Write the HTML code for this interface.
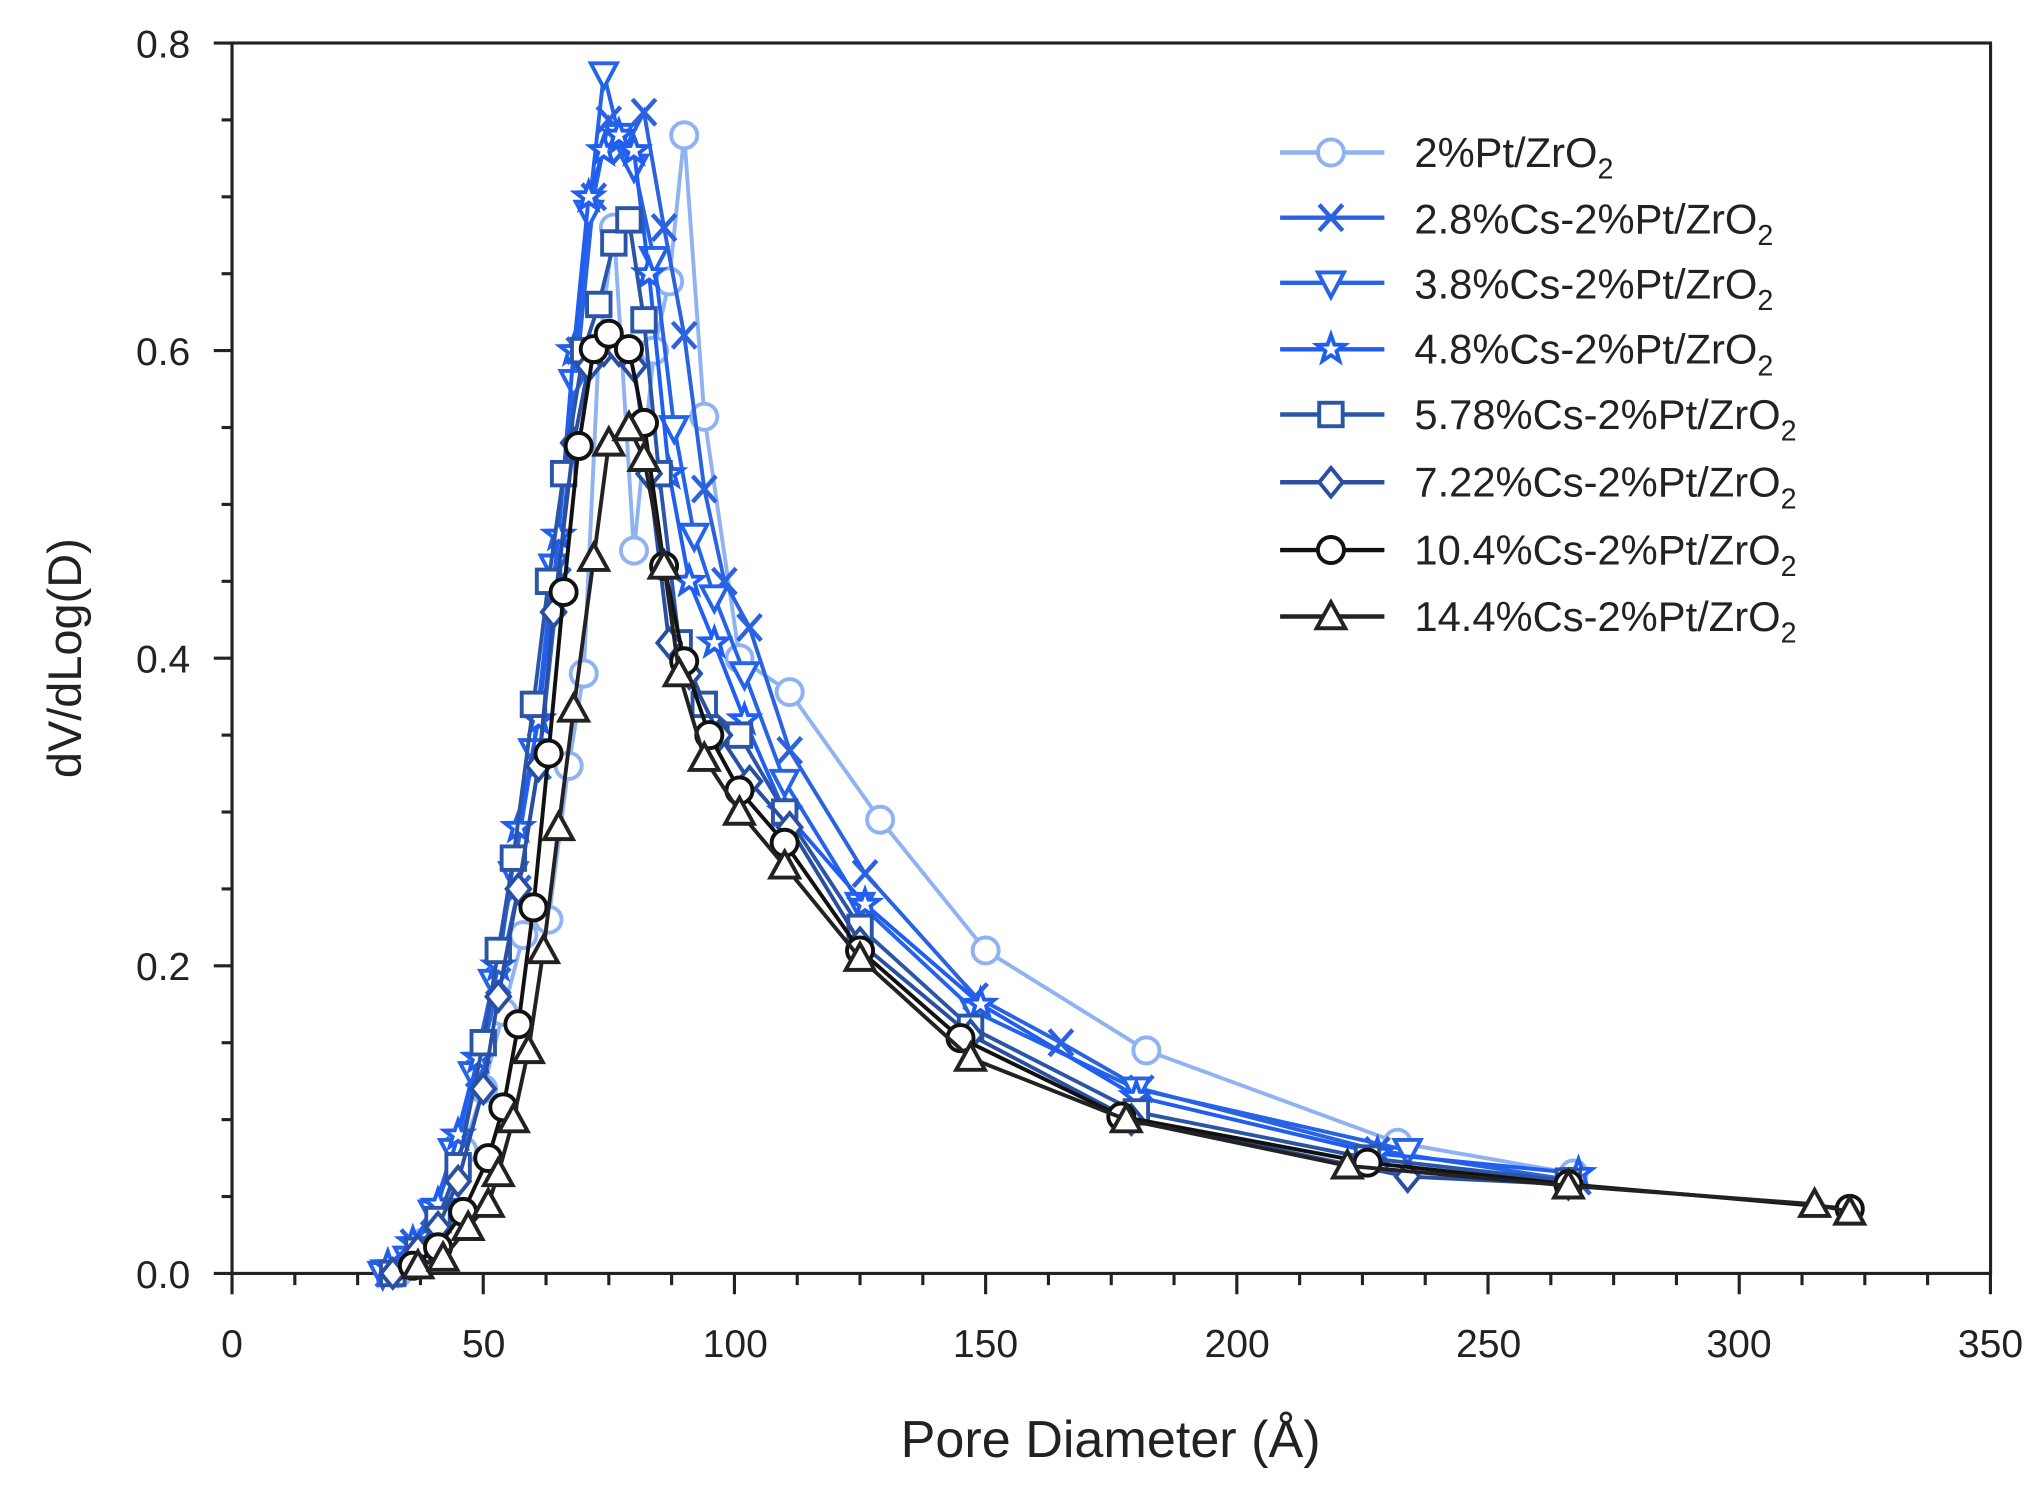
<!DOCTYPE html>
<html><head><meta charset="utf-8"><style>
html,body{margin:0;padding:0;background:#fff;}
svg{display:block;}
text{font-family:"Liberation Sans",sans-serif;}
</style></head><body>
<svg id="s" width="2044" height="1495" viewBox="0 0 1568 1147" preserveAspectRatio="none" xmlns="http://www.w3.org/2000/svg">
<rect x="0" y="0" width="1568" height="1147" fill="#fff"/>
<g id="axes" stroke="#222" stroke-width="2.4" fill="none">
<rect x="178" y="33" width="1349" height="944"/>
</g>
<g id="ticks" stroke="#222" stroke-width="2.4"></g>
<g font-size="30" fill="#222" text-anchor="end">
<text x="146" y="988">0.0</text>
<text x="146" y="752">0.2</text>
<text x="146" y="516">0.4</text>
<text x="146" y="280">0.6</text>
<text x="146" y="44">0.8</text>
</g>
<g font-size="30" fill="#222" text-anchor="middle">
<text x="178" y="1041">0</text>
<text x="371" y="1041">50</text>
<text x="564" y="1041">100</text>
<text x="756" y="1041">150</text>
<text x="949" y="1041">200</text>
<text x="1142" y="1041">250</text>
<text x="1334" y="1041">300</text>
<text x="1527" y="1041">350</text>
</g>
<text x="852" y="1118" font-size="40" fill="#222" text-anchor="middle">Pore Diameter (Å)</text>
<text transform="translate(62,505) rotate(-90)" font-size="36" fill="#222" text-anchor="middle">dV/dLog(D)</text>
<g id="series"></g>
<g id="legend" font-size="32" fill="#222">
<text x="1085" y="128">2%Pt/ZrO<tspan font-size="22" dy="9">2</tspan></text>
<text x="1085" y="179">2.8%Cs-2%Pt/ZrO<tspan font-size="22" dy="9">2</tspan></text>
<text x="1085" y="229">3.8%Cs-2%Pt/ZrO<tspan font-size="22" dy="9">2</tspan></text>
<text x="1085" y="279">4.8%Cs-2%Pt/ZrO<tspan font-size="22" dy="9">2</tspan></text>
<text x="1085" y="329">5.78%Cs-2%Pt/ZrO<tspan font-size="22" dy="9">2</tspan></text>
<text x="1085" y="381">7.22%Cs-2%Pt/ZrO<tspan font-size="22" dy="9">2</tspan></text>
<text x="1085" y="433">10.4%Cs-2%Pt/ZrO<tspan font-size="22" dy="9">2</tspan></text>
<text x="1085" y="484">14.4%Cs-2%Pt/ZrO<tspan font-size="22" dy="9">2</tspan></text>
</g>
</svg>
<script>
var NS="http://www.w3.org/2000/svg";
function X(d){return 178+d*3.854;}
function Y(v){return 977-v*1180;}
function el(p,t,a){var e=document.createElementNS(NS,t);for(var k in a)e.setAttribute(k,a[k]);p.appendChild(e);return e;}
var tk=document.getElementById('ticks');
for(var i=0;i<=28;i++){var d=i*12.5,x=X(d),maj=(i%4==0);el(tk,'line',{x1:x,y1:977,x2:x,y2:977+(maj?16:9)});}
for(var i=0;i<=16;i++){var v=i*0.05,y=Y(v),maj=(i%4==0);el(tk,'line',{x1:178,y1:y,x2:178-(maj?14:8),y2:y});}
function marker(g,type,x,y,c){
 var r=10,a={fill:'#fff',stroke:c,'stroke-width':3};
 if(type=='o'){a.cx=x;a.cy=y;a.r=r;el(g,'circle',a);}
 else if(type=='x'){el(g,'path',{d:'M'+(x-9)+' '+(y-10)+'L'+(x+9)+' '+(y+10)+'M'+(x+9)+' '+(y-10)+'L'+(x-9)+' '+(y+10),stroke:c,'stroke-width':3.4,fill:'none'});}
 else if(type=='v'){a.points=(x-10)+','+(y-8)+' '+(x+10)+','+(y-8)+' '+x+','+(y+11);el(g,'polygon',a);}
 else if(type=='^'){a.points=(x-11)+','+(y+9)+' '+(x+11)+','+(y+9)+' '+x+','+(y-11);el(g,'polygon',a);}
 else if(type=='s'){a.x=x-9;a.y=y-9;a.width=18;a.height=18;el(g,'rect',a);}
 else if(type=='d'){a.points=x+','+(y-11)+' '+(x+9)+','+y+' '+x+','+(y+11)+' '+(x-9)+','+y;el(g,'polygon',a);}
 else if(type=='*'){var p=[];for(var k=0;k<10;k++){var rr=k%2?4.5:11,an=-Math.PI/2+k*Math.PI/5;p.push((x+rr*Math.cos(an)).toFixed(1)+','+(y+rr*Math.sin(an)).toFixed(1));}a.points=p.join(' ');el(g,'polygon',a);}
}
var S=[
['#8fb2f2','o',[[33,0],[38,0.02],[42,0.04],[46,0.08],[50,0.12],[54,0.17],[58,0.22],[63,0.23],[67,0.33],[70,0.39],[73,0.6],[76,0.68],[80,0.47],[84,0.6],[87,0.645],[90,0.74],[94,0.557],[101,0.40],[111,0.378],[129,0.295],[150,0.21],[182,0.145],[232,0.085],[267,0.065]]],
['#2a62e0','x',[[31,0],[36,0.02],[40,0.04],[45,0.08],[49,0.13],[53,0.19],[57,0.25],[61,0.33],[65,0.45],[69,0.6],[72,0.7],[75,0.75],[78,0.73],[82,0.755],[86,0.68],[90,0.61],[94,0.51],[98,0.45],[103,0.42],[111,0.34],[126,0.26],[148,0.18],[165,0.15],[181,0.12],[228,0.08],[268,0.06]]],
['#2563e8','v',[[30,0],[35,0.01],[40,0.04],[44,0.08],[48,0.13],[52,0.19],[56,0.26],[60,0.34],[64,0.46],[68,0.58],[71,0.69],[74,0.78],[77,0.74],[80,0.72],[84,0.66],[88,0.55],[92,0.48],[96,0.44],[102,0.39],[110,0.32],[125,0.24],[148,0.17],[180,0.12],[234,0.08]]],
['#1f5ef0','*',[[31,0.005],[36,0.02],[41,0.045],[45,0.09],[49,0.14],[53,0.2],[57,0.29],[61,0.36],[65,0.48],[68,0.6],[71,0.7],[74,0.73],[77,0.74],[80,0.73],[83,0.65],[87,0.52],[91,0.45],[96,0.41],[102,0.36],[110,0.3],[126,0.24],[149,0.175],[180,0.115],[228,0.078],[268,0.065]]],
['#2b56a8','s',[[32,0],[37,0.015],[41,0.035],[45,0.07],[50,0.15],[53,0.21],[56,0.27],[60,0.37],[63,0.45],[66,0.52],[70,0.6],[73,0.63],[76,0.67],[79,0.685],[82,0.62],[85,0.52],[89,0.41],[94,0.37],[101,0.35],[110,0.3],[125,0.225],[147,0.16],[180,0.105],[226,0.075],[266,0.06]]],
['#2a4fa0','d',[[32,0],[37,0.015],[41,0.03],[45,0.06],[50,0.12],[53,0.18],[57,0.25],[61,0.33],[64,0.43],[68,0.54],[71,0.59],[74,0.6],[77,0.6],[80,0.59],[83,0.52],[87,0.41],[91,0.39],[97,0.35],[103,0.32],[111,0.29],[125,0.215],[147,0.155],[179,0.1],[234,0.063],[266,0.058]]],
['#111','o',[[36,0.005],[41,0.017],[46,0.04],[51,0.075],[54,0.108],[57,0.162],[60,0.238],[63,0.338],[66,0.443],[69,0.538],[72,0.601],[75,0.611],[79,0.601],[82,0.553],[86,0.46],[90,0.398],[95,0.35],[101,0.314],[110,0.28],[125,0.21],[145,0.153],[177,0.102],[226,0.072],[266,0.058],[322,0.042]]],
['#222','^',[[37,0.005],[42,0.01],[47,0.03],[51,0.045],[53,0.065],[56,0.1],[59,0.145],[62,0.21],[65,0.29],[68,0.367],[72,0.465],[75,0.54],[79,0.55],[82,0.53],[86,0.46],[89,0.39],[94,0.335],[101,0.3],[110,0.265],[125,0.205],[147,0.14],[178,0.1],[222,0.07],[266,0.057],[315,0.045],[322,0.04]]]
];
var sg=document.getElementById('series');
var LY=[117,167,217,268,318,370,422,473];
S.forEach(function(s,i){
 var g=el(sg,'g',{});
 el(g,'polyline',{points:s[2].map(function(p){return X(p[0]).toFixed(1)+','+Y(p[1]).toFixed(1);}).join(' '),fill:'none',stroke:s[0],'stroke-width':3});
 s[2].forEach(function(p){marker(g,s[1],X(p[0]),Y(p[1]),s[0]);});
 el(g,'line',{x1:982,y1:LY[i],x2:1062,y2:LY[i],stroke:s[0],'stroke-width':3.4});
 marker(g,s[1],1021,LY[i],s[0]);
});
</script>
</body></html>
